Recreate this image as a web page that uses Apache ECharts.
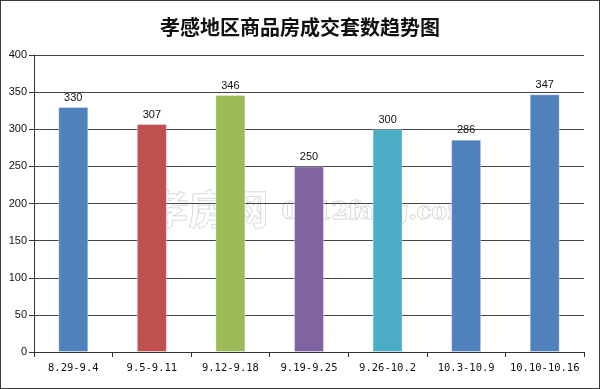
<!DOCTYPE html>
<html><head><meta charset="utf-8">
<script src="https://cdn.jsdelivr.net/npm/echarts@6/dist/echarts.min.js"></script>
<style>
html,body{margin:0;padding:0;background:#fff;}
#frame{position:absolute;left:0;top:0;width:598px;height:387px;border:1px solid #3a3a3a;}
#c{position:absolute;left:0;top:0;width:600px;height:389px;}
</style></head>
<body><div id="c"></div><div id="frame"></div>
<script>
const categories = ['8.29-9.4','9.5-9.11','9.12-9.18','9.19-9.25','9.26-10.2','10.3-10.9','10.10-10.16'];
const values = [330, 307, 346, 250, 300, 286, 347];
const barColors = ['#4F81BD','#C0504D','#9BBB59','#8064A2','#4BACC6','#4F81BD','#4F81BD'];
const titleText = '孝感地区商品房成交套数趋势图';

const chart = echarts.init(document.getElementById('c'));
chart.setOption({
  animation:false,
  backgroundColor:'#fff',
  title:{text:titleText,left:'center',top:12,textStyle:{fontFamily:'Noto Sans CJK SC',fontSize:20,fontWeight:'bold',color:'#111'}},
  grid:{left:34,right:16,top:55,bottom:37},
  graphic:[
    {type:'text',left:148,top:188,silent:true,style:{text:'孝房网',font:'bold 40px "Noto Sans CJK SC"',fill:'rgba(255,255,255,0.6)',stroke:'rgba(150,150,150,0.5)',lineWidth:1}},
    {type:'text',left:281,top:200,silent:true,style:{text:'0712fang.com',font:'bold 24px "DejaVu Serif"',fill:'rgba(255,255,255,0.6)',stroke:'rgba(150,150,150,0.55)',lineWidth:1}}
  ],
  xAxis:{type:'category',data:categories,
    axisLine:{lineStyle:{color:'#333',width:1}},
    axisTick:{show:true,alignWithLabel:false,length:5,lineStyle:{color:'#333'}},
    axisLabel:{color:'#111',fontSize:10.5,margin:11,fontFamily:'DejaVu Sans Mono',interval:0}},
  yAxis:{type:'value',min:0,max:400,interval:50,
    axisLine:{show:true,lineStyle:{color:'#333'}},
    axisTick:{show:true,length:5,lineStyle:{color:'#333'}},
    splitLine:{lineStyle:{color:'#444',width:1}},
    axisLabel:{color:'#111',fontSize:11,margin:7}},
  series:[{type:'bar',data:values.map((v,i)=>({value:v,itemStyle:{color:barColors[i]}})),
    barWidth:30,
    itemStyle:{borderColor:'rgba(255,255,255,0.35)',borderWidth:1},
    label:{show:true,position:'top',distance:4,color:'#111',fontSize:11}}]
});
</script></body></html>
